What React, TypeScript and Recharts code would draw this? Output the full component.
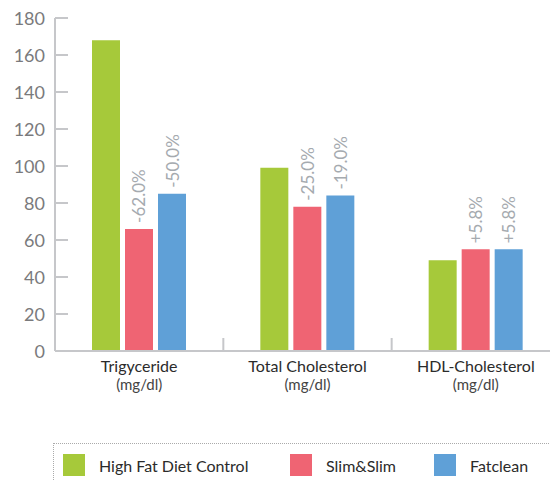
import { BarChart, Bar, XAxis, YAxis, LabelList } from "recharts"

const categories = ["Trigyceride", "Total Cholesterol", "HDL-Cholesterol"]
const units = ["(mg/dl)", "(mg/dl)", "(mg/dl)"]
const controlValues = [168, 99, 49]
const slimValues = [66, 78, 55]
const fatcleanValues = [85, 84, 55]
const slimChange = ["-62.0%", "-25.0%", "+5.8%"]
const fatcleanChange = ["-50.0%", "-19.0%", "+5.8%"]
const yTicks = [0, 20, 40, 60, 80, 100, 120, 140, 160, 180]

const seriesNames = ["High Fat Diet Control", "Slim&Slim", "Fatclean"]
const seriesColors = ["#a6c93a", "#ef6473", "#5fa0d7"]

const data = categories.map((name, i) => ({
  name,
  unit: units[i],
  control: controlValues[i],
  slim: slimValues[i],
  fatclean: fatcleanValues[i],
  slimChange: slimChange[i],
  fatcleanChange: fatcleanChange[i],
}))

const CHART_W = 560
const CHART_H = 401
const Y_AXIS_W = 55
const halfBand = (CHART_W - Y_AXIS_W) / categories.length / 2
const axisColor = "#c6c7ca"
const font = "Lato, 'Open Sans', sans-serif"

function YTick({ x, y, payload }: any) {
  const axisX = x + 10
  return (
    <g>
      {payload.value !== 0 && (
        <line x1={axisX} x2={axisX + 13} y1={y} y2={y} stroke={axisColor} strokeWidth={2} />
      )}
      <text x={x} y={y} textAnchor="end" dominantBaseline="central" fontSize={18} fill="#7a7a7c" fontFamily={font}>
        {payload.value}
      </text>
    </g>
  )
}

function XTick({ x, y, payload, index }: any) {
  return (
    <g>
      {index > 0 && (
        <line x1={x - halfBand} x2={x - halfBand} y1={y} y2={y - 13} stroke={axisColor} strokeWidth={2} />
      )}
      <text x={x} y={y + 21} textAnchor="middle" fontSize={16} fill="#2b2b2b" fontFamily={font}>
        {payload.value}
      </text>
      <text x={x} y={y + 39} textAnchor="middle" fontSize={15} fill="#444" fontFamily={font}>
        {units[index]}
      </text>
    </g>
  )
}

function ChangeLabel({ x, y, width, value }: any) {
  const cx = x + width / 2
  const cy = y - 6
  return (
    <text
      x={cx}
      y={cy}
      transform={`rotate(-90, ${cx}, ${cy})`}
      textAnchor="start"
      dominantBaseline="central"
      fontSize={17}
      fill="#a5aaaf"
      fontFamily={font}
    >
      {value}
    </text>
  )
}

const legendLefts = [9, 236, 380]

export default function App() {
  return (
    <div
      style={{
        position: "absolute",
        left: 0,
        top: 0,
        width: 550,
        height: 481,
        overflow: "hidden",
        background: "#fff",
        fontFamily: font,
      }}
    >
      <BarChart
        width={CHART_W}
        height={CHART_H}
        data={data}
        margin={{ top: 18, right: 0, left: 0, bottom: 0 }}
        barGap={5}
      >
        <YAxis
          width={Y_AXIS_W}
          domain={[0, 180]}
          ticks={yTicks}
          interval={0}
          tickSize={0}
          tickMargin={10}
          tickLine={false}
          axisLine={{ stroke: axisColor, strokeWidth: 2 }}
          tick={<YTick />}
        />
        <XAxis
          dataKey="name"
          height={50}
          interval={0}
          tickSize={0}
          tickMargin={0}
          tickLine={false}
          axisLine={{ stroke: axisColor, strokeWidth: 2 }}
          tick={<XTick />}
        />
        <Bar dataKey="control" fill={seriesColors[0]} barSize={28} isAnimationActive={false} />
        <Bar dataKey="slim" fill={seriesColors[1]} barSize={28} isAnimationActive={false}>
          <LabelList dataKey="slimChange" content={<ChangeLabel />} />
        </Bar>
        <Bar dataKey="fatclean" fill={seriesColors[2]} barSize={28} isAnimationActive={false}>
          <LabelList dataKey="fatcleanChange" content={<ChangeLabel />} />
        </Bar>
      </BarChart>
      <div
        style={{
          position: "absolute",
          left: 53,
          top: 443,
          width: 497,
          height: 38,
          borderTop: "1px dotted #aaa",
          borderLeft: "1px dotted #aaa",
        }}
      >
        {seriesNames.map((name, i) => (
          <div
            key={name}
            style={{
              position: "absolute",
              left: legendLefts[i],
              top: 10,
              display: "flex",
              alignItems: "center",
              height: 22,
            }}
          >
            <div style={{ width: 22, height: 22, background: seriesColors[i] }} />
            <span style={{ marginLeft: 14, fontSize: 16, color: "#2b2b2b", whiteSpace: "nowrap" }}>{name}</span>
          </div>
        ))}
      </div>
    </div>
  )
}
